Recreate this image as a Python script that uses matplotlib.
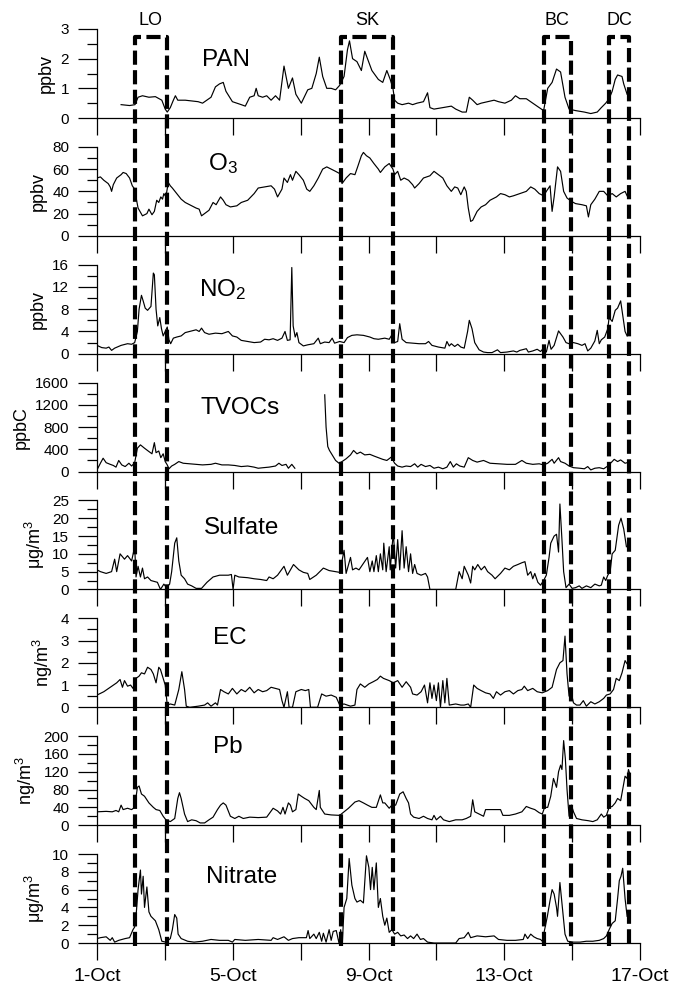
import numpy as np
import matplotlib
matplotlib.use('Agg')
import matplotlib.pyplot as plt
import matplotlib.transforms as mtransforms
from matplotlib.lines import Line2D
from matplotlib.ticker import MultipleLocator

plt.rcParams['font.family'] = ['Liberation Sans', 'DejaVu Sans']
plt.rcParams['mathtext.fontset'] = 'custom'
plt.rcParams['mathtext.rm'] = 'Liberation Sans'
plt.rcParams['mathtext.it'] = 'Liberation Sans:italic'

# (days after 1-Oct 00:00, value)
pan = [(0.71, 0.45), (0.96, 0.42), (1.12, 0.45), (1.21, 0.70), (1.34, 0.75), (1.53, 0.70),
       (1.72, 0.72), (1.91, 0.60), (2.01, 0.30), (2.07, 0.20), (2.16, 0.35), (2.25, 0.60),
       (2.31, 0.75), (2.38, 0.60), (2.60, 0.60), (2.98, 0.55), (3.11, 0.50), (3.36, 0.70),
       (3.49, 1.05), (3.61, 1.15), (3.72, 1.20), (3.80, 0.90), (3.99, 0.55), (4.25, 0.45),
       (4.37, 0.40), (4.50, 0.70), (4.63, 0.75), (4.69, 1.00), (4.75, 0.75), (4.88, 0.70),
       (5.00, 0.75), (5.13, 0.60), (5.26, 0.75), (5.38, 0.60), (5.51, 1.75), (5.64, 1.00),
       (5.76, 1.35), (5.86, 0.80), (6.02, 0.50), (6.21, 0.95), (6.33, 1.00), (6.46, 1.50),
       (6.55, 2.05), (6.65, 1.40), (6.77, 1.00), (6.90, 1.00), (7.03, 0.95), (7.15, 1.10),
       (7.28, 1.40), (7.38, 2.30), (7.44, 2.60), (7.53, 2.00), (7.66, 1.90), (7.79, 1.60),
       (7.89, 2.25), (7.97, 2.00), (8.10, 1.60), (8.29, 1.30), (8.42, 1.20), (8.54, 1.60),
       (8.64, 1.30), (8.72, 1.00), (8.77, 0.60), (8.86, 0.50), (8.99, 0.45), (9.18, 0.50),
       (9.30, 0.45), (9.43, 0.50), (9.62, 0.55), (9.74, 0.85), (9.81, 0.35), (9.93, 0.30),
       (10.19, 0.35), (10.44, 0.40), (10.57, 0.30), (10.76, 0.20), (10.88, 0.20), (10.97, 0.70),
       (11.07, 0.60), (11.20, 0.45), (11.32, 0.50), (11.51, 0.55), (11.70, 0.60), (11.83, 0.55),
       (12.02, 0.50), (12.21, 0.60), (12.33, 0.75), (12.46, 0.65), (12.65, 0.65), (12.84, 0.50),
       (13.03, 0.35), (13.16, 0.25), (13.28, 1.00), (13.41, 1.20), (13.54, 1.65), (13.66, 1.55),
       (13.79, 0.70), (13.91, 0.30), (14.10, 0.25), (14.36, 0.20), (14.55, 0.15), (14.74, 0.20),
       (14.86, 0.35), (14.99, 0.50), (15.09, 0.65), (15.18, 0.90), (15.27, 1.30), (15.34, 1.45),
       (15.47, 1.40), (15.52, 1.15), (15.62, 0.80)]

o3 = [(0.00, 52), (0.10, 53), (0.20, 50), (0.33, 47), (0.39, 44), (0.43, 40), (0.48, 46),
      (0.58, 52), (0.71, 55), (0.77, 57), (0.86, 56), (0.96, 52), (1.04, 45), (1.11, 42),
      (1.16, 33), (1.21, 25), (1.34, 18), (1.47, 20), (1.53, 24), (1.62, 19), (1.69, 22),
      (1.76, 32), (1.82, 30), (1.88, 35), (1.93, 33), (1.97, 38), (2.03, 35), (2.10, 48),
      (2.16, 45), (2.22, 43), (2.35, 38), (2.48, 33), (2.60, 30), (2.73, 28), (2.92, 25),
      (3.01, 24), (3.08, 18), (3.17, 20), (3.30, 23), (3.42, 30), (3.51, 28), (3.64, 35),
      (3.72, 32), (3.80, 28), (3.93, 26), (4.12, 27), (4.25, 30), (4.44, 32), (4.63, 38),
      (4.75, 43), (4.94, 44), (5.13, 45), (5.23, 42), (5.32, 35), (5.45, 42), (5.51, 52),
      (5.61, 48), (5.70, 55), (5.76, 50), (5.86, 58), (5.95, 55), (6.08, 50), (6.18, 42),
      (6.27, 40), (6.39, 45), (6.52, 52), (6.65, 60), (6.77, 62), (6.90, 60), (7.03, 58),
      (7.15, 56), (7.22, 47), (7.34, 52), (7.47, 56), (7.60, 55), (7.68, 62), (7.79, 72),
      (7.85, 75), (7.94, 72), (8.04, 70), (8.16, 65), (8.29, 60), (8.35, 57), (8.48, 62),
      (8.61, 65), (8.72, 60), (8.77, 55), (8.86, 58), (8.95, 50), (9.05, 52), (9.18, 50),
      (9.30, 46), (9.36, 43), (9.49, 47), (9.62, 52), (9.81, 54), (9.93, 58), (10.06, 55),
      (10.19, 52), (10.31, 45), (10.44, 40), (10.54, 44), (10.63, 43), (10.72, 37), (10.82, 44),
      (10.88, 40), (10.94, 25), (11.01, 13), (11.07, 14), (11.20, 22), (11.32, 26), (11.45, 28),
      (11.58, 32), (11.77, 35), (11.89, 38), (12.02, 37), (12.15, 35), (12.27, 36), (12.46, 38),
      (12.65, 40), (12.78, 44), (12.90, 42), (13.03, 38), (13.16, 36), (13.24, 40), (13.35, 45),
      (13.41, 22), (13.47, 35), (13.57, 62), (13.66, 58), (13.75, 40), (13.85, 34), (13.98, 31),
      (14.10, 29), (14.29, 28), (14.42, 27), (14.48, 17), (14.55, 28), (14.67, 33), (14.80, 40),
      (14.93, 40), (15.05, 36), (15.18, 38), (15.30, 35), (15.43, 38), (15.56, 40), (15.62, 36)]

no2 = [(0.00, 1.5), (0.14, 1.1), (0.27, 1.0), (0.35, 1.2), (0.43, 0.6), (0.52, 1.0), (0.71, 1.5),
       (0.90, 1.8), (1.02, 1.7), (1.11, 2.0), (1.19, 4.0), (1.24, 8.0), (1.31, 10.5), (1.36, 9.5),
       (1.42, 8.2), (1.49, 7.8), (1.59, 8.5), (1.66, 14.5), (1.69, 14.2), (1.74, 8.0), (1.79, 5.0),
       (1.85, 6.5), (1.90, 4.5), (1.95, 3.2), (2.01, 4.0), (2.07, 4.8), (2.12, 2.5), (2.17, 1.8),
       (2.25, 2.8), (2.35, 3.0), (2.48, 3.2), (2.60, 3.8), (2.73, 4.0), (2.92, 4.3), (3.01, 4.0),
       (3.08, 4.6), (3.17, 3.8), (3.30, 3.5), (3.49, 3.7), (3.68, 3.6), (3.87, 4.0), (3.99, 3.2),
       (4.12, 3.0), (4.25, 2.4), (4.44, 2.2), (4.63, 2.0), (4.82, 2.1), (4.94, 2.6), (5.07, 2.5),
       (5.19, 2.7), (5.32, 2.4), (5.45, 2.8), (5.54, 4.0), (5.61, 2.4), (5.69, 2.5), (5.74, 15.5),
       (5.78, 5.0), (5.84, 3.0), (5.89, 3.8), (5.95, 2.0), (6.08, 1.4), (6.21, 1.6), (6.39, 1.8),
       (6.52, 2.8), (6.58, 1.8), (6.71, 2.1), (6.84, 2.0), (6.93, 2.8), (7.00, 1.9), (7.15, 2.2),
       (7.28, 2.0), (7.38, 2.9), (7.51, 3.3), (7.66, 3.4), (7.85, 3.3), (8.04, 3.0), (8.16, 2.7),
       (8.29, 2.6), (8.48, 2.8), (8.61, 2.6), (8.69, 3.4), (8.77, 2.0), (8.86, 2.2), (8.92, 5.4),
       (8.99, 2.6), (9.11, 2.0), (9.30, 1.9), (9.49, 1.8), (9.68, 1.8), (9.77, 2.2), (9.87, 1.5),
       (10.06, 1.2), (10.25, 1.0), (10.31, 2.2), (10.38, 1.4), (10.44, 1.8), (10.54, 1.3),
       (10.63, 1.7), (10.72, 1.2), (10.82, 1.0), (10.92, 4.0), (10.97, 6.0), (11.05, 4.5),
       (11.13, 2.0), (11.26, 0.7), (11.39, 0.3), (11.51, 0.2), (11.64, 0.2), (11.80, 0.7),
       (11.89, 0.2), (12.08, 0.3), (12.27, 0.5), (12.37, 0.3), (12.46, 0.6), (12.65, 0.9),
       (12.71, 0.3), (12.84, 0.5), (12.97, 0.8), (13.07, 0.4), (13.16, 1.0), (13.24, 0.3),
       (13.32, 2.4), (13.38, 0.8), (13.47, 1.5), (13.60, 4.1), (13.73, 3.0), (13.82, 2.0),
       (13.91, 1.8), (14.04, 2.0), (14.17, 1.8), (14.29, 1.5), (14.38, 1.8), (14.46, 0.5),
       (14.55, 1.0), (14.67, 2.3), (14.74, 4.2), (14.80, 1.8), (14.86, 2.5), (14.96, 3.0),
       (15.05, 4.5), (15.09, 6.5), (15.18, 5.8), (15.27, 7.8), (15.34, 8.2), (15.43, 9.5),
       (15.49, 7.0), (15.56, 4.0), (15.62, 3.2)]

tvoc = [(0.00, 30), (0.10, 150), (0.18, 240), (0.27, 160), (0.39, 130), (0.48, 110), (0.56, 80),
        (0.64, 200), (0.73, 120), (0.83, 90), (0.94, 150), (1.02, 100), (1.11, 160), (1.19, 420),
        (1.28, 480), (1.40, 420), (1.53, 360), (1.62, 320), (1.69, 520), (1.74, 340), (1.82, 370),
        (1.88, 250), (1.95, 320), (2.01, 180), (2.07, 120), (2.12, 50), (2.20, 100), (2.29, 130),
        (2.41, 180), (2.54, 150), (2.73, 140), (2.92, 130), (3.11, 120), (3.36, 130), (3.49, 150),
        (3.68, 120), (3.87, 120), (4.06, 110), (4.25, 90), (4.44, 100), (4.63, 80), (4.75, 60),
        (4.90, 70), (5.07, 80), (5.26, 100), (5.36, 150), (5.45, 110), (5.57, 130), (5.64, 60),
        (5.74, 130), (5.83, 60), (6.2, np.nan),
        (6.71, 1380), (6.75, 800), (6.80, 450), (6.85, 380), (6.93, 300), (7.03, 200), (7.13, 150),
        (7.22, 180), (7.34, 230), (7.47, 300), (7.56, 380), (7.66, 320), (7.76, 350), (7.89, 300),
        (8.04, 310), (8.16, 280), (8.29, 250), (8.42, 220), (8.54, 200), (8.67, 260), (8.77, 150),
        (8.86, 100), (8.99, 80), (9.11, 100), (9.24, 90), (9.36, 140), (9.45, 80), (9.55, 130),
        (9.68, 90), (9.81, 110), (9.93, 60), (10.06, 80), (10.19, 50), (10.31, 80), (10.41, 180),
        (10.50, 80), (10.59, 140), (10.69, 100), (10.82, 80), (10.94, 250), (11.07, 200),
        (11.20, 170), (11.39, 200), (11.58, 150), (11.83, 140), (12.08, 130), (12.33, 130),
        (12.52, 200), (12.65, 150), (12.84, 130), (13.03, 140), (13.16, 120), (13.28, 150),
        (13.41, 220), (13.47, 150), (13.60, 250), (13.66, 180), (13.79, 150), (13.91, 100),
        (14.04, 70), (14.23, 60), (14.36, 50), (14.46, 90), (14.55, 30), (14.67, 60), (14.80, 70),
        (14.93, 50), (15.05, 100), (15.18, 180), (15.24, 220), (15.34, 180), (15.43, 210),
        (15.56, 150), (15.62, 160)]

sulfate = [(0.00, 5.5), (0.10, 5.0), (0.27, 4.5), (0.43, 5.0), (0.52, 8.5), (0.58, 5.0), (0.68, 10.0),
           (0.81, 8.5), (0.90, 9.5), (1.02, 8.0), (1.11, 12.0), (1.15, 3.5), (1.21, 6.5), (1.28, 3.5),
           (1.34, 6.0), (1.40, 3.0), (1.49, 3.5), (1.59, 2.5), (1.78, 2.0), (1.87, 0.0), (1.97, 1.5),
           (2.05, 0.5), (2.14, 1.5), (2.20, 5.0), (2.29, 13.0), (2.35, 14.5), (2.41, 8.0), (2.48, 4.0),
           (2.58, 3.0), (2.67, 1.5), (2.79, 1.0), (2.92, 0.3), (3.08, 0.3), (3.24, 2.0), (3.42, 3.5),
           (3.61, 4.0), (3.87, 4.0), (3.96, 4.2), (4.01, 0.0), (4.06, 4.0), (4.18, 3.5), (4.44, 3.3),
           (4.63, 3.0), (4.82, 2.8), (5.00, 2.5), (5.07, 3.5), (5.19, 3.0), (5.32, 4.0), (5.51, 6.5),
           (5.61, 4.0), (5.79, 7.0), (5.95, 5.5), (6.08, 4.8), (6.21, 4.5), (6.27, 2.8), (6.46, 4.0),
           (6.67, 6.0), (6.84, 5.3), (7.03, 5.0), (7.15, 4.8), (7.22, 8.0), (7.28, 11.0), (7.34, 4.5),
           (7.47, 9.0), (7.53, 5.5), (7.63, 6.0), (7.72, 5.5), (7.97, 9.0), (8.04, 5.0), (8.11, 8.0),
           (8.16, 5.0), (8.23, 9.5), (8.29, 5.0), (8.35, 10.0), (8.42, 5.5), (8.45, 13.0), (8.52, 5.0),
           (8.61, 12.0), (8.64, 5.5), (8.73, 16.0), (8.80, 6.0), (8.86, 14.0), (8.92, 5.5), (8.99, 16.5),
           (9.05, 6.0), (9.11, 12.0), (9.18, 5.0), (9.24, 10.0), (9.30, 4.5), (9.36, 7.0), (9.43, 4.5),
           (9.55, 4.0), (9.68, 4.5), (9.74, 3.5), (9.81, 0.0), (10.57, 0.0), (10.67, 5.0), (10.76, 3.0),
           (10.82, 6.5), (10.94, 4.0), (11.01, 1.8), (11.07, 6.5), (11.13, 5.5), (11.22, 7.0),
           (11.32, 5.5), (11.42, 6.5), (11.51, 5.0), (11.64, 4.0), (11.73, 3.0), (11.89, 4.5),
           (12.02, 6.0), (12.15, 5.5), (12.27, 6.5), (12.40, 7.0), (12.52, 7.5), (12.61, 7.8),
           (12.69, 4.0), (12.78, 5.0), (12.84, 3.0), (12.90, 4.5), (12.99, 2.0), (13.07, 1.2),
           (13.16, 2.5), (13.24, 4.0), (13.32, 9.0), (13.37, 13.0), (13.47, 15.0), (13.54, 15.5),
           (13.60, 10.5), (13.64, 24.0), (13.70, 14.0), (13.75, 5.0), (13.82, 0.5), (13.91, 1.5),
           (14.00, 0.3), (14.10, 0.5), (14.21, 1.0), (14.29, 0.3), (14.42, 1.0), (14.55, 0.5),
           (14.67, 1.5), (14.80, 1.0), (14.86, 1.2), (14.93, 3.5), (14.99, 2.5), (15.05, 4.0),
           (15.12, 5.0), (15.18, 10.0), (15.27, 11.0), (15.37, 18.0), (15.44, 20.0), (15.52, 17.0),
           (15.60, 12.0)]

ec = [(0.00, 0.55), (0.20, 0.70), (0.39, 0.90), (0.58, 1.10), (0.68, 1.25), (0.75, 0.90), (0.81, 1.20),
      (0.90, 0.95), (0.99, 1.00), (1.06, 0.85), (1.15, 1.30), (1.24, 1.40), (1.31, 1.55), (1.40, 1.50),
      (1.49, 1.80), (1.59, 1.70), (1.66, 1.50), (1.74, 1.10), (1.82, 1.80), (1.87, 1.70), (1.95, 1.30),
      (2.01, 1.00), (2.07, 0.10), (2.16, 0.15), (2.29, 0.10), (2.41, 0.80), (2.50, 1.60), (2.58, 0.80),
      (2.63, 0.05), (2.73, 0.00), (2.98, 0.05), (3.17, 0.10), (3.26, 0.20), (3.36, 0.05), (3.49, 0.20),
      (3.55, 0.10), (3.64, 0.80), (3.74, 0.70), (3.87, 0.60), (3.99, 0.85), (4.12, 0.60), (4.25, 0.80),
      (4.37, 0.70), (4.50, 0.90), (4.63, 0.65), (4.75, 0.80), (4.88, 0.70), (5.00, 0.75), (5.13, 0.90),
      (5.26, 0.85), (5.38, 0.80), (5.45, 0.30), (5.51, 0.00), (5.61, 0.70), (5.66, 0.00), (5.76, 0.00),
      (5.86, 0.70), (6.02, 0.80), (6.14, 0.75), (6.24, 0.80), (6.29, 0.00), (6.50, 0.00), (6.62, 0.60),
      (6.75, 0.50), (6.90, 0.55), (7.05, 0.45), (7.15, 0.10), (7.28, 0.15), (7.47, 0.05), (7.60, 0.10),
      (7.66, 0.80), (7.76, 1.05), (7.89, 0.90), (8.01, 1.05), (8.14, 1.15), (8.26, 1.25), (8.35, 1.40),
      (8.44, 1.30), (8.61, 1.20), (8.73, 1.10), (8.86, 1.20), (8.99, 0.90), (9.11, 1.15), (9.24, 0.90),
      (9.30, 0.60), (9.43, 0.55), (9.55, 0.70), (9.65, 1.00), (9.74, 0.20), (9.81, 1.10), (9.87, 0.40),
      (9.93, 1.00), (10.00, 0.30), (10.06, 1.10), (10.12, 0.00), (10.19, 1.20), (10.25, 0.20),
      (10.31, 1.30), (10.38, 0.10), (10.57, 0.15), (10.72, 0.10), (10.82, 0.10), (10.94, 0.15),
      (11.01, 0.00), (11.10, 1.00), (11.20, 0.85), (11.32, 0.75), (11.45, 0.65), (11.58, 0.60),
      (11.68, 0.40), (11.77, 0.70), (11.89, 0.55), (12.02, 0.70), (12.15, 0.75), (12.27, 0.60),
      (12.40, 0.75), (12.52, 0.80), (12.59, 0.95), (12.69, 0.75), (12.84, 0.85), (12.97, 0.70),
      (13.12, 0.65), (13.28, 0.75), (13.41, 0.90), (13.54, 1.70), (13.64, 2.00), (13.73, 2.10),
      (13.79, 3.20), (13.85, 1.50), (13.91, 0.50), (13.98, 0.60), (14.04, 0.20), (14.13, 0.10),
      (14.23, 0.10), (14.33, 0.30), (14.42, 0.05), (14.55, 0.25), (14.67, 0.15), (14.80, 0.25),
      (14.93, 0.40), (15.01, 0.55), (15.12, 0.60), (15.22, 0.80), (15.30, 1.30), (15.39, 1.20),
      (15.47, 1.55), (15.56, 2.10), (15.62, 1.95), (15.68, 2.15)]

pb = [(0.00, 30), (0.27, 31), (0.45, 30), (0.56, 33), (0.64, 30), (0.71, 45), (0.77, 35), (0.90, 38),
      (1.02, 35), (1.11, 40), (1.19, 85), (1.24, 88), (1.31, 70), (1.40, 65), (1.53, 50), (1.66, 40),
      (1.74, 35), (1.85, 33), (1.95, 20), (2.03, 12), (2.16, 8), (2.29, 15), (2.38, 60), (2.43, 73),
      (2.48, 60), (2.58, 25), (2.67, 8), (2.79, 12), (2.92, 10), (3.04, 5), (3.17, 5), (3.30, 12),
      (3.42, 18), (3.55, 35), (3.64, 45), (3.72, 50), (3.80, 45), (3.93, 20), (4.06, 15), (4.18, 20),
      (4.31, 15), (4.50, 18), (4.75, 17), (5.00, 18), (5.19, 38), (5.32, 32), (5.41, 25), (5.48, 40),
      (5.54, 25), (5.64, 50), (5.70, 45), (5.76, 30), (5.86, 35), (5.93, 70), (6.02, 65), (6.12, 60),
      (6.24, 55), (6.39, 40), (6.46, 35), (6.55, 78), (6.58, 40), (6.71, 25), (6.90, 23), (7.15, 22),
      (7.28, 30), (7.41, 38), (7.60, 52), (7.72, 55), (7.85, 50), (7.97, 45), (8.10, 40), (8.23, 40),
      (8.35, 68), (8.42, 50), (8.48, 50), (8.61, 38), (8.69, 45), (8.80, 45), (8.92, 70), (9.02, 75),
      (9.11, 60), (9.18, 50), (9.24, 25), (9.33, 18), (9.49, 15), (9.62, 20), (9.74, 15), (9.87, 12),
      (9.93, 22), (10.00, 12), (10.12, 20), (10.21, 12), (10.38, 8), (10.57, 12), (10.76, 12),
      (10.88, 15), (11.01, 20), (11.07, 57), (11.13, 30), (11.26, 25), (11.39, 20), (11.45, 35),
      (11.89, 35), (11.96, 22), (12.15, 22), (12.33, 25), (12.52, 30), (12.65, 42), (12.78, 38),
      (12.90, 35), (13.03, 28), (13.12, 25), (13.19, 40), (13.28, 40), (13.37, 65), (13.45, 105),
      (13.54, 85), (13.60, 120), (13.66, 135), (13.70, 125), (13.75, 190), (13.80, 150), (13.85, 80),
      (13.91, 20), (13.98, 45), (14.04, 30), (14.13, 15), (14.29, 12), (14.48, 10), (14.61, 8),
      (14.74, 12), (14.86, 25), (14.93, 18), (15.01, 22), (15.09, 40), (15.18, 42), (15.27, 50),
      (15.34, 60), (15.43, 55), (15.49, 80), (15.56, 110), (15.62, 105), (15.66, 125), (15.70, 115)]

nitrate = [(0.00, 0.5), (0.10, 0.6), (0.27, 0.7), (0.39, 0.3), (0.45, 0.6), (0.52, 0.1), (0.64, 0.3),
           (0.83, 0.5), (0.96, 0.6), (1.06, 1.5), (1.11, 1.8), (1.16, 3.5), (1.21, 6.0), (1.28, 8.2),
           (1.31, 5.5), (1.36, 7.5), (1.40, 4.0), (1.47, 6.3), (1.53, 3.5), (1.59, 3.0), (1.72, 2.5),
           (1.82, 1.5), (1.91, 0.2), (2.03, 0.1), (2.16, 0.5), (2.22, 1.5), (2.29, 3.2), (2.35, 2.8),
           (2.39, 1.0), (2.48, 0.5), (2.67, 0.2), (2.86, 0.1), (3.11, 0.2), (3.36, 0.4), (3.61, 0.3),
           (3.87, 0.3), (3.99, 0.1), (4.06, 0.4), (4.37, 0.3), (4.75, 0.4), (5.13, 0.3), (5.19, 0.6),
           (5.32, 0.4), (5.51, 0.7), (5.64, 0.3), (5.76, 0.5), (5.95, 0.6), (6.17, 0.6), (6.22, 1.4),
           (6.27, 0.5), (6.39, 1.0), (6.46, 0.5), (6.55, 1.2), (6.62, 0.2), (6.67, 1.1), (6.75, 0.1),
           (6.84, 1.5), (6.90, 0.3), (6.96, 1.3), (7.05, 1.4), (7.13, 0.0), (7.18, 1.5), (7.23, 0.0),
           (7.28, 4.0), (7.36, 5.0), (7.43, 9.5), (7.51, 6.5), (7.60, 5.0), (7.66, 4.6), (7.76, 4.8),
           (7.85, 4.5), (7.94, 9.8), (8.01, 8.5), (8.06, 6.0), (8.11, 8.5), (8.16, 6.0), (8.23, 9.0),
           (8.29, 4.0), (8.35, 5.0), (8.42, 3.0), (8.48, 2.0), (8.54, 2.8), (8.61, 1.2), (8.69, 1.5),
           (8.77, 1.0), (8.86, 1.2), (8.95, 0.8), (9.05, 0.9), (9.15, 0.5), (9.24, 0.8), (9.33, 0.5),
           (9.43, 1.0), (9.53, 0.4), (9.62, 0.5), (9.74, 0.1), (9.93, 0.0), (10.57, 0.0), (10.67, 0.5),
           (10.82, 0.6), (10.94, 1.2), (11.01, 0.6), (11.20, 0.8), (11.45, 0.7), (11.70, 0.8),
           (11.83, 0.4), (12.08, 0.3), (12.33, 0.3), (12.56, 0.4), (12.61, 1.0), (12.69, 0.5),
           (12.78, 1.0), (12.87, 0.7), (12.97, 0.5), (13.07, 0.4), (13.12, 0.2), (13.19, 1.5),
           (13.27, 3.0), (13.35, 4.8), (13.41, 6.0), (13.47, 5.5), (13.54, 4.0), (13.57, 3.0),
           (13.64, 6.8), (13.70, 4.5), (13.79, 1.0), (13.87, 0.2), (14.04, 0.1), (14.23, 0.1),
           (14.42, 0.2), (14.61, 0.2), (14.80, 0.3), (14.93, 0.5), (15.01, 0.8), (15.09, 1.5),
           (15.18, 2.2), (15.27, 2.5), (15.34, 5.0), (15.39, 7.0), (15.44, 7.5), (15.49, 8.4),
           (15.56, 5.0), (15.62, 3.0)]

# pollution episodes (days after 1-Oct)
episodes = ['LO', 'SK', 'BC', 'DC']
ep_start = [1.12, 7.18, 13.16, 15.09]
ep_end = [2.05, 8.72, 13.96, 15.68]

day_ticks = [0, 4, 8, 12, 16]
day_labels = ['1-Oct', '5-Oct', '9-Oct', '13-Oct', '17-Oct']

# series, title, unit, ymax, major step, minor step, title pos (day, value)
panels = [
    (pan, 'PAN', 'ppbv', 3, 1, 0.5, (3.80, 1.95)),
    (o3, 'O$_3$', 'ppbv', 80, 20, 10, (3.72, 65)),
    (no2, 'NO$_2$', 'ppbv', 16, 4, 2, (3.70, 11.5)),
    (tvoc, 'TVOCs', 'ppbC', 1600, 400, 200, (4.21, 1150)),
    (sulfate, 'Sulfate', 'μg/m$^3$', 25, 5, 2.5, (4.27, 17.2)),
    (ec, 'EC', 'ng/m$^3$', 4, 1, 0.5, (3.92, 3.1)),
    (pb, 'Pb', 'ng/m$^3$', 200, 40, 20, (3.86, 176)),
    (nitrate, 'Nitrate', 'μg/m$^3$', 10, 2, 1, (4.27, 7.45)),
]

W, H = 673, 990
fig = plt.figure(figsize=(W / 100, H / 100), dpi=100)
x0, x1 = 97, 640
axes = []
for i, (ser, title, unit, ymax, maj, mnr, tpos) in enumerate(panels):
    zero_y = 118 + 117.86 * i
    ax = fig.add_axes([x0 / W, 1 - zero_y / H, (x1 - x0) / W, 89 / H])
    d = np.array(ser, dtype=float)
    ax.plot(d[:, 0], d[:, 1], color='black', lw=0.85)
    ax.set_xlim(0, 16)
    ax.set_ylim(0, ymax)
    ax.patch.set_alpha(0)
    for s in ['top', 'right']:
        ax.spines[s].set_visible(False)
    for s in ['left', 'bottom']:
        ax.spines[s].set_linewidth(0.9)
    ax.yaxis.set_major_locator(MultipleLocator(maj))
    ax.yaxis.set_minor_locator(MultipleLocator(mnr))
    ax.xaxis.set_major_locator(MultipleLocator(2))
    ax.tick_params(axis='y', which='major', direction='out', length=14, width=0.9,
                   labelsize=11, pad=6)
    ax.tick_params(axis='y', which='minor', direction='out', length=7, width=0.9)
    ax.tick_params(axis='x', which='major', direction='out', length=12.2, width=0.9,
                   labelsize=14, pad=6)
    if i == len(panels) - 1:
        ax.set_xticks(day_ticks, minor=False)
        ax.set_xticks(np.arange(0, 17, 2), minor=True)
        ax.set_xticklabels(day_labels)
        ax.tick_params(axis='x', which='minor', direction='out', length=12.2, width=0.9)
    else:
        ax.tick_params(axis='x', labelbottom=False)
    ax.set_ylabel(unit, fontsize=13, labelpad=4)
    ax.text(tpos[0], tpos[1], title, fontsize=17.5, ha='center', va='center')
    axes.append(ax)

# dashed episode boxes running through all panels
box_top = 2.73
to_fig = fig.transFigure.inverted()
y_top = to_fig.transform(axes[0].transData.transform((0, box_top)))[1]
y_bot = to_fig.transform(axes[-1].transData.transform((0, -0.35)))[1]
trans = mtransforms.blended_transform_factory(axes[-1].transData, fig.transFigure)
for name, a, b in zip(episodes, ep_start, ep_end):
    ln = Line2D([a, a, b, b], [y_bot, y_top, y_top, y_bot], transform=trans, color='black',
                lw=3, linestyle=(0, (3.4, 1.3)))
    fig.add_artist(ln)
    axes[0].text((a + b) / 2, 3.3, name, fontsize=13, ha='center', va='center', clip_on=False)

fig.savefig('out.png', dpi=100)
